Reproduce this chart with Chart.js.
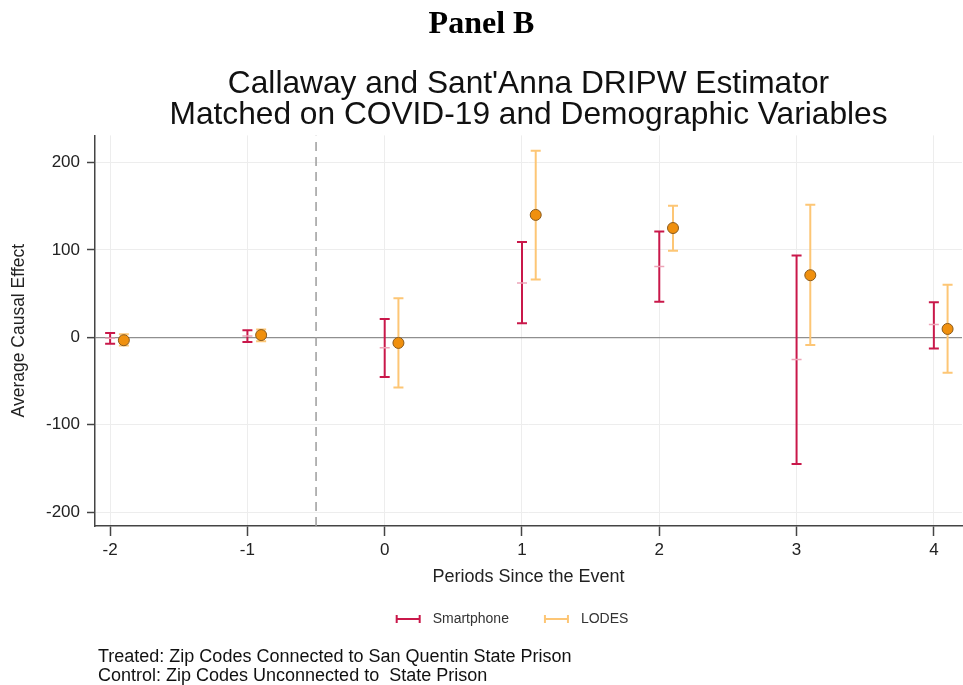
<!DOCTYPE html>
<html>
<head>
<meta charset="utf-8">
<script src="https://cdn.jsdelivr.net/npm/chart.js@4.4.1/dist/chart.umd.min.js"></script>
<style>
  html, body { margin: 0; padding: 0; background: #fff; width: 963px; height: 685px; overflow: hidden; }
  #wrap { position: relative; width: 963px; height: 685px; }
  #panel { position: absolute; left: 0; top: 4px; width: 963px; text-align: center;
           font-family: 'Liberation Serif', 'Times New Roman', serif; font-weight: bold; font-size: 32px; color: #000; }
  #note { position: absolute; left: 98px; top: 647px; font-family: 'Liberation Sans', Arial, sans-serif;
          font-size: 18px; line-height: 18.5px; color: #111; white-space: pre; }
  canvas { position: absolute; left: 0; top: 0; }
</style>
</head>
<body>
<div id="wrap">
  <canvas id="c" width="963" height="685"></canvas>
  <div id="panel">Panel B</div>
  <div id="note">Treated: Zip Codes Connected to San Quentin State Prison
Control: Zip Codes Unconnected to  State Prison</div>
</div>
<script>
const periods = [-2, -1, 0, 1, 2, 3, 4];
const xTickValues = [-2, -1, 0, 1, 2, 3, 4];
const yTickValues = [-200, -100, 0, 100, 200];
const smartphoneEst = [-1, 1.5, -12, 62, 81, -25.5, 14.5];
const smartphoneLo  = [-7.5, -5.5, -45.5, 16, 40.5, -145, -13];
const smartphoneHi  = [5, 8, 21, 109, 121, 93.5, 40];
const lodesEst = [-3.4, 2.5, -6.5, 140, 125, 71, 9.5];
const lodesLo  = [-9.5, -4.5, -57.5, 66, 99, -9, -40.5];
const lodesHi  = [3.5, 9, 44.5, 213.5, 150.5, 151.5, 60];
const lodesOffset = 0.1;
const eventLine = -0.5;
const xRange = [-2.11, 4.205];
const yRange = [-216, 231];

const RED = '#c9184a';
const ORANGE = '#fdc675';
const FONT = "'Liberation Sans', Arial, sans-serif";

function segs(xs, lo, hi, off) {
  const out = [];
  xs.forEach((x, i) => {
    out.push({x: x + off, y: lo[i]}, {x: x + off, y: hi[i]}, {x: x + off, y: null});
  });
  return out;
}
function caps(xs, lo, hi, off) {
  const out = [];
  xs.forEach((x, i) => { out.push({x: x + off, y: lo[i]}, {x: x + off, y: hi[i]}); });
  return out;
}
function pts(xs, v, off) { return xs.map((x, i) => ({x: x + off, y: v[i]})); }

function legendIcon(color) {
  const c = document.createElement('canvas');
  c.width = 41; c.height = 12;
  const g = c.getContext('2d');
  g.strokeStyle = color; g.lineWidth = 2;
  g.beginPath();
  g.moveTo(12, 6); g.lineTo(35, 6);
  g.moveTo(12, 2); g.lineTo(12, 10);
  g.moveTo(35, 2); g.lineTo(35, 10);
  g.stroke();
  return c;
}

const datasets = [
  { label: 'event', data: [{x: eventLine, y: yRange[0]}, {x: eventLine, y: yRange[1]}], order: 5,
    showLine: true, borderColor: '#9c9c9c', borderWidth: 1.5, borderDash: [9, 6], pointRadius: 0, clip: 0 },
  { label: 'Smartphone', data: segs(periods, smartphoneLo, smartphoneHi, 0), order: 2,
    showLine: true, spanGaps: false, borderColor: RED, borderWidth: 2, pointRadius: 0 },
  { label: 'sp-caps', data: caps(periods, smartphoneLo, smartphoneHi, 0), order: 2,
    showLine: false, pointStyle: 'line', pointRadius: 5, pointBorderColor: RED, pointBorderWidth: 2 },
  { label: 'sp-est', data: pts(periods, smartphoneEst, 0), order: 0,
    showLine: false, pointStyle: 'line', pointRadius: 5, pointBorderColor: '#eda5b8', pointBorderWidth: 1.5 },
  { label: 'LODES', data: segs(periods, lodesLo, lodesHi, lodesOffset), order: 2,
    showLine: true, spanGaps: false, borderColor: ORANGE, borderWidth: 2, pointRadius: 0 },
  { label: 'ld-caps', data: caps(periods, lodesLo, lodesHi, lodesOffset), order: 2,
    showLine: false, pointStyle: 'line', pointRadius: 5, pointBorderColor: ORANGE, pointBorderWidth: 2 },
  { label: 'ld-est', data: pts(periods, lodesEst, lodesOffset), order: 0,
    showLine: false, pointStyle: 'circle', pointRadius: 5.5, pointBackgroundColor: '#f0900e',
    pointBorderColor: '#8a5a1c', pointBorderWidth: 1 }
];

const icons = { 'Smartphone': legendIcon(RED), 'LODES': legendIcon(ORANGE) };

const legendShift = {
  id: 'legendShift',
  afterLayout(chart) {
    const L = chart.legend;
    if (L) { L.left -= 22; L.right -= 22; }
  }
};

new Chart(document.getElementById('c'), {
  type: 'scatter',
  data: { datasets },
  plugins: [legendShift],
  options: {
    responsive: false,
    animation: false,
    events: [],
    layout: { autoPadding: false, padding: { top: 62, left: 0, right: 1, bottom: 49 } },
    plugins: {
      tooltip: { enabled: false },
      title: {
        display: true, fullSize: false,
        text: ["Callaway and Sant'Anna DRIPW Estimator", 'Matched on COVID-19 and Demographic Variables'],
        font: { family: FONT, size: 31.7, weight: 'normal', lineHeight: 1.0 },
        color: '#111', padding: { top: 6, bottom: 4 }
      },
      legend: {
        display: true, position: 'bottom', fullSize: false,
        labels: {
          usePointStyle: true, pointStyleWidth: 41,
          font: { family: FONT, size: 14 }, color: '#333', padding: 24,
          generateLabels: (chart) => ['Smartphone', 'LODES'].map(name => ({
            text: name, pointStyle: icons[name], fillStyle: 'transparent', strokeStyle: 'transparent',
            lineWidth: 0, hidden: false, fontColor: '#333'
          }))
        }
      }
    },
    scales: {
      x: {
        type: 'linear', min: xRange[0], max: xRange[1],
        afterBuildTicks: (s) => { s.ticks = xTickValues.map(v => ({value: v})); },
        afterFit: (s) => { s.paddingRight = 0; s.paddingLeft = 0; },
        ticks: { font: { family: FONT, size: 17 }, color: '#222', padding: 4 },
        grid: { color: '#ededed', lineWidth: 1, tickLength: 10, tickColor: '#444', tickWidth: 1.5 },
        border: { color: '#444', width: 1.5 },
        title: { display: true, text: 'Periods Since the Event', font: { family: FONT, size: 18 },
                 color: '#222', padding: { top: 2, bottom: 0 } }
      },
      y: {
        type: 'linear', min: yRange[0], max: yRange[1],
        afterBuildTicks: (s) => { s.ticks = yTickValues.map(v => ({value: v})); },
        ticks: { font: { family: FONT, size: 17 }, color: '#222', padding: 7 },
        grid: {
          color: (ctx) => (ctx.tick && ctx.tick.value === 0) ? '#8f8f8f' : '#ededed',
          lineWidth: (ctx) => (ctx.tick && ctx.tick.value === 0) ? 1.3 : 1,
          tickLength: 8, tickColor: '#444', tickWidth: 1.5
        },
        border: { color: '#444', width: 1.5 },
        title: { display: true, text: 'Average Causal Effect', font: { family: FONT, size: 17.5 },
                 color: '#222', padding: { top: 9, bottom: 9 } }
      }
    }
  }
});
</script>
</body>
</html>
